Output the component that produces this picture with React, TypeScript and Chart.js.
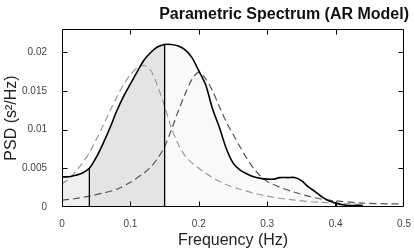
import React, { useEffect, useRef } from 'react';
import { Chart, registerables } from 'chart.js';

Chart.register(...registerables);

const FONT = '"Liberation Sans", Arial, Helvetica, sans-serif';

// Total AR PSD (solid)
const freqTotal = [0, 0.01, 0.02, 0.03, 0.04, 0.05, 0.06, 0.07, 0.08, 0.09, 0.1, 0.11, 0.12, 0.13, 0.14, 0.15, 0.16, 0.17, 0.18, 0.19, 0.2, 0.21, 0.22, 0.23, 0.24, 0.25, 0.26, 0.27, 0.28, 0.29, 0.3, 0.31, 0.318, 0.33, 0.34, 0.35, 0.36, 0.37, 0.38, 0.39, 0.4, 0.41, 0.42, 0.43, 0.44];
const psdTotal = [0.0039, 0.0039, 0.0041, 0.0044, 0.005, 0.0064, 0.0082, 0.0102, 0.0124, 0.0143, 0.0159, 0.0175, 0.019, 0.02, 0.0207, 0.021, 0.021, 0.0208, 0.0203, 0.0193, 0.0176, 0.0158, 0.0127, 0.0103, 0.0076, 0.0057, 0.0048, 0.0043, 0.0039, 0.0037, 0.0036, 0.0036, 0.0038, 0.0038, 0.0038, 0.0034, 0.0026, 0.002, 0.0013, 0.0008, 0.0005, 0.0003, 0.0002, 0.0002, 0.0002];

// LF component (light dashed)
const freqLF = [0, 0.01, 0.02, 0.03, 0.04, 0.05, 0.06, 0.07, 0.08, 0.09, 0.1, 0.11, 0.12, 0.13, 0.14, 0.15, 0.16, 0.17, 0.18, 0.19, 0.2, 0.22, 0.24, 0.26, 0.28, 0.3, 0.32, 0.34, 0.36, 0.38, 0.4, 0.42, 0.44];
const psdLF = [0.003, 0.0036, 0.0046, 0.0057, 0.007, 0.0087, 0.0105, 0.0124, 0.0142, 0.0158, 0.0171, 0.018, 0.0183, 0.0176, 0.0156, 0.013, 0.0102, 0.0081, 0.0066, 0.0057, 0.005, 0.0038, 0.0029, 0.0023, 0.0018, 0.0014, 0.0011, 0.0009, 0.0007, 0.0006, 0.0005, 0.0004, 0.0003];

// HF component (dark dashed)
const freqHF = [0, 0.02, 0.04, 0.06, 0.08, 0.1, 0.12, 0.13, 0.14, 0.15, 0.16, 0.17, 0.18, 0.19, 0.2, 0.21, 0.22, 0.23, 0.24, 0.25, 0.26, 0.27, 0.28, 0.29, 0.3, 0.32, 0.34, 0.36, 0.38, 0.4, 0.44, 0.48, 0.5];
const psdHF = [0.0009, 0.0011, 0.0014, 0.0018, 0.0023, 0.0032, 0.0044, 0.0052, 0.0063, 0.0078, 0.01, 0.0124, 0.0146, 0.0165, 0.0174, 0.0166, 0.015, 0.013, 0.011, 0.0094, 0.0078, 0.0063, 0.005, 0.004, 0.0033, 0.0025, 0.0019, 0.0014, 0.001, 0.0008, 0.0005, 0.0004, 0.0004];

// Frequency band edges (VLF / LF / HF)
const bandEdges = [0, 0.04, 0.15, 0.4];
const bandFills = ['#efefef', '#e4e4e4', '#f9f9f9'];

const xTicks = [0, 0.1, 0.2, 0.3, 0.4, 0.5];
const yTicks = [0, 0.005, 0.01, 0.015, 0.02];

const fmt = (v: number) => String(parseFloat(v.toFixed(4)));

const boxPlugin = {
  id: 'boxTicks',
  afterDraw(chart: any) {
    const { ctx, chartArea: a, scales } = chart;
    const L = Math.round(a.left) + 0.5;
    const R = Math.round(a.right) - 0.5;
    const T = Math.round(a.top) + 0.5;
    const B = Math.round(a.bottom) - 0.5;
    const len = 5;
    ctx.save();
    ctx.strokeStyle = '#000';
    ctx.lineWidth = 1;
    ctx.beginPath();
    ctx.rect(L, T, R - L, B - T);
    xTicks.forEach((v) => {
      const px = Math.round(scales.x.getPixelForValue(v)) + 0.5;
      if (px <= L + 1 || px >= R - 1) return;
      ctx.moveTo(px, B);
      ctx.lineTo(px, B - len);
      ctx.moveTo(px, T);
      ctx.lineTo(px, T + len);
    });
    yTicks.forEach((v) => {
      const py = Math.round(scales.y.getPixelForValue(v)) + 0.5;
      if (py <= T + 1 || py >= B - 1) return;
      ctx.moveTo(L, py);
      ctx.lineTo(L + len, py);
      ctx.moveTo(R, py);
      ctx.lineTo(R - len, py);
    });
    ctx.stroke();
    ctx.restore();
  },
};

export default function App() {
  const ref = useRef<HTMLCanvasElement | null>(null);

  useEffect(() => {
    document.body.style.margin = '0';
    const canvas = ref.current;
    if (!canvas) return;

    const totalPts = freqTotal.map((f, i) => ({ x: f, y: psdTotal[i] }));
    const lfPts = freqLF.map((f, i) => ({ x: f, y: psdLF[i] }));
    const hfPts = freqHF.map((f, i) => ({ x: f, y: psdHF[i] }));

    const fillSets = bandFills.map((color, i) => ({
      data: totalPts.filter((p) => p.x >= bandEdges[i] - 1e-9 && p.x <= bandEdges[i + 1] + 1e-9),
      borderWidth: 0,
      borderColor: 'rgba(0,0,0,0)',
      backgroundColor: color,
      fill: 'origin',
      pointRadius: 0,
      tension: 0.3,
      order: 10,
    }));

    const vlineSets = bandEdges.slice(1).map((e) => {
      const idx = freqTotal.findIndex((f) => Math.abs(f - e) < 1e-9);
      return {
        data: [{ x: e, y: 0 }, { x: e, y: psdTotal[idx] }],
        borderColor: '#000',
        borderWidth: 1.3,
        pointRadius: 0,
        fill: false,
        order: 3,
      };
    });

    const chart = new Chart(canvas, {
      type: 'line',
      data: {
        datasets: [
          {
            data: totalPts,
            borderColor: '#000',
            borderWidth: 1.6,
            pointRadius: 0,
            fill: false,
            tension: 0.3,
            order: 1,
          },
          ...vlineSets,
          {
            data: lfPts,
            borderColor: '#999',
            borderWidth: 1.2,
            borderDash: [7, 4],
            pointRadius: 0,
            fill: false,
            tension: 0.3,
            order: 5,
          },
          {
            data: hfPts,
            borderColor: '#555',
            borderWidth: 1.2,
            borderDash: [7, 4],
            pointRadius: 0,
            fill: false,
            tension: 0.3,
            order: 5,
          },
          ...fillSets,
        ] as any,
      },
      options: {
        responsive: false,
        animation: false,
        events: [],
        layout: { padding: { left: 0, right: 5, top: 0, bottom: 0 } },
        plugins: {
          legend: { display: false },
          tooltip: { enabled: false },
          title: {
            display: true,
            text: 'Parametric Spectrum (AR Model)',
            align: 'end',
            color: '#111',
            font: { family: FONT, size: 16, weight: 'bold', lineHeight: 1.2 },
            padding: { top: 5, bottom: 4.8 },
          },
        },
        scales: {
          x: {
            type: 'linear',
            min: 0,
            max: 0.5,
            grid: { display: false },
            border: { display: false },
            afterBuildTicks: (s: any) => {
              s.ticks = xTicks.map((v) => ({ value: v }));
            },
            afterFit: (s: any) => {
              s.height = 43;
            },
            ticks: {
              padding: 3,
              maxRotation: 0,
              autoSkip: false,
              color: '#444',
              font: { family: FONT, size: 10 },
              callback: (v: any) => fmt(Number(v)),
            },
            title: {
              display: true,
              text: 'Frequency (Hz)',
              color: '#222',
              font: { family: FONT, size: 16, lineHeight: 1.2 },
              padding: { top: 0, bottom: 0 },
            },
          },
          y: {
            type: 'linear',
            min: 0,
            max: 0.023,
            grid: { display: false },
            border: { display: false },
            afterBuildTicks: (s: any) => {
              s.ticks = yTicks.map((v) => ({ value: v }));
            },
            afterFit: (s: any) => {
              s.width = 62;
            },
            ticks: {
              padding: 7,
              autoSkip: false,
              color: '#444',
              font: { family: FONT, size: 10 },
              callback: (v: any) => fmt(Number(v)),
            },
            title: {
              display: true,
              text: 'PSD (s²/Hz)',
              color: '#222',
              font: { family: FONT, size: 16, lineHeight: 1.2 },
              padding: { top: 2, bottom: 0 },
            },
          },
        },
      } as any,
      plugins: [boxPlugin],
    });

    return () => chart.destroy();
  }, []);

  return (
    <div style={{ position: 'absolute', left: 0, top: 0, width: 414, height: 250, background: '#fff' }}>
      <canvas ref={ref} width={414} height={250} style={{ width: 414, height: 250, display: 'block' }} />
    </div>
  );
}
